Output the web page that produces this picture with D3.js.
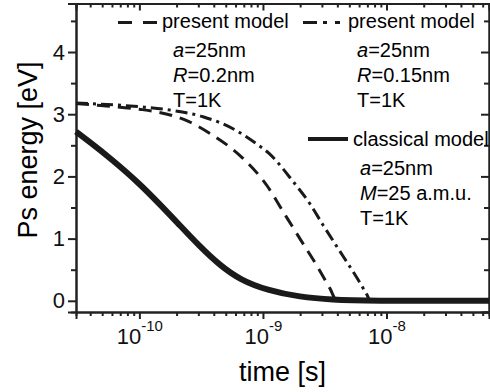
<!DOCTYPE html>
<html>
<head>
<meta charset="utf-8">
<script src="https://d3js.org/d3.v7.min.js"></script>
<style>
    body { margin: 0; background: #fff; }
    svg { display: block; font-family: "Liberation Sans", Arial, sans-serif; }
</style>
</head>
<body>
<div id="energyPlot"></div>
<script>
// Ps energy vs time, log x axis, three cooling curves

// [time (s), energy (eV)]
const classicalCurve = [[3.07e-11, 2.72], [3.98e-11, 2.55], [5.68e-11, 2.31], [1.0e-10, 1.89],
    [1.55e-10, 1.50], [2.0e-10, 1.27], [3.09e-10, 0.87], [4.49e-10, 0.57], [6.51e-10, 0.34],
    [1.08e-9, 0.17], [1.99e-9, 0.06], [3.68e-9, 0.015], [6.81e-9, 0], [6.75e-8, 0]];

const presentR02Curve = [[3.07e-11, 3.17], [4.89e-11, 3.14], [1.0e-10, 3.08], [1.36e-10, 3.04],
    [2.52e-10, 2.88], [3.73e-10, 2.69], [6.89e-10, 2.29], [1.08e-9, 1.85], [1.45e-9, 1.44],
    [1.99e-9, 1.00], [2.74e-9, 0.56], [3.48e-9, 0.20], [3.97e-9, 0], [6.75e-8, 0]];

const presentR015Curve = [[3.07e-11, 3.18], [1.0e-10, 3.12], [1.87e-10, 3.06], [3.27e-10, 2.96],
    [6.05e-10, 2.74], [8.78e-10, 2.53], [1.12e-9, 2.37], [1.75e-9, 1.92], [2.4e-9, 1.56],
    [3.06e-9, 1.22], [4.44e-9, 0.72], [5.76e-9, 0.37], [6.93e-9, 0.10], [7.41e-9, 0],
    [6.75e-8, 0]];

const xDomain = [3.07e-11, 6.75e-8];
const yDomain = [-0.18, 4.78];
const xMajorTicks = [1e-10, 1e-9, 1e-8];
const yMajorTicks = [0, 1, 2, 3, 4];
const yMinorTicks = [0.5, 1.5, 2.5, 3.5, 4.5];

// legend text, first part of a line is italic
const legendR02 = ["present model", ["a", "=25nm"], ["R", "=0.2nm"], ["", "T=1K"]];
const legendR015 = ["present model", ["a", "=25nm"], ["R", "=0.15nm"], ["", "T=1K"]];
const legendClassical = ["classical model", ["a", "=25nm"], ["M", "=25 a.m.u."], ["", "T=1K"]];

const xTitle = "time [s]";
const yTitle = "Ps energy [eV]";

class EnergyPlot {
    constructor() {
        this.width = 490;
        this.height = 392;
        this.margin = {top: 3.5, right: 1, bottom: 80, left: 76};

        this.svg = d3.select("#energyPlot")
            .append("svg")
            .attr("width", this.width)
            .attr("height", this.height);

        let left = this.margin.left, right = this.width - this.margin.right;
        let top = this.margin.top, bottom = this.height - this.margin.bottom;

        this.x = d3.scaleLog().domain(xDomain).range([left, right]);
        this.y = d3.scaleLinear().domain(yDomain).range([bottom, top]);

        let xMinor = this.x.ticks().filter(t => !xMajorTicks.some(m => Math.abs(m - t) / m < 1e-6));
        let none = () => "";

        // ticks out on left/bottom, in on top/right
        this.axis(d3.axisBottom(this.x).tickValues(xMinor).tickSize(4).tickFormat(none), 0, bottom);
        let xAx = this.axis(d3.axisBottom(this.x).tickValues(xMajorTicks).tickSize(7).tickPadding(4), 0, bottom);
        this.axis(d3.axisTop(this.x).tickValues(xMinor).tickSize(-4).tickFormat(none), 0, top);
        this.axis(d3.axisTop(this.x).tickValues(xMajorTicks).tickSize(-7).tickFormat(none), 0, top);

        this.axis(d3.axisLeft(this.y).tickValues(yMinorTicks).tickSize(5).tickFormat(none), left, 0);
        let yAx = this.axis(d3.axisLeft(this.y).tickValues(yMajorTicks).tickSize(8).tickPadding(3), left, 0);
        this.axis(d3.axisRight(this.y).tickValues(yMinorTicks).tickSize(-5).tickFormat(none), right, 0);
        this.axis(d3.axisRight(this.y).tickValues(yMajorTicks).tickSize(-8).tickFormat(none), right, 0);

        yAx.selectAll(".tick text")
            .style("font-size", "22px")
            .attr("fill", "#111")
            .text(d => d);

        // x labels as 10^n
        xAx.selectAll(".tick text")
            .attr("y", 32)
            .attr("dy", null)
            .attr("fill", "#111")
            .style("font-size", "22px")
            .text(null)
            .each(function(d) {
                let e = Math.round(Math.log10(d));
                d3.select(this).append("tspan").text("10");
                d3.select(this).append("tspan")
                    .attr("dy", -13)
                    .style("font-size", "15px")
                    .text(String(e));
            });

        // axis titles
        this.svg.append("text")
            .attr("x", (left + right) / 2)
            .attr("y", 381)
            .attr("text-anchor", "middle")
            .style("font-size", "27px")
            .text(xTitle);
        this.svg.append("text")
            .attr("transform", "translate(37," + 150 + ") rotate(-90)")
            .attr("text-anchor", "middle")
            .style("font-size", "27px")
            .text(yTitle);

        // curves
        let lineGen = d3.line()
            .x(d => this.x(d[0]))
            .y(d => this.y(d[1]))
            .curve(d3.curveMonotoneX);
        // classical one is a smooth S shape, basis avoids the small kinks
        let smoothGen = d3.line()
            .x(d => this.x(d[0]))
            .y(d => this.y(d[1]))
            .curve(d3.curveBasis);

        this.curve(lineGen(presentR02Curve), 3, "13,8");
        this.curve(lineGen(presentR015Curve), 3, "12,5,3,5");
        this.curve(smoothGen(classicalCurve), 6, null);

        // legends
        this.legend(legendR02, 118, 157, 22.5, 162, 173, 28, "14,11", 3);
        this.legend(legendR015, 303, 345, 22.5, 348, 357, 28, "14,6,4,8,5,20", 3);
        this.legend(legendClassical, 308, 348, 139, 353, 360, 146, null, 4);
    }

    axis(gen, tx, ty) {
        let g = this.svg.append("g")
            .attr("transform", "translate(" + tx + "," + ty + ")")
            .call(gen);
        g.select(".domain").attr("stroke", "#222").attr("stroke-width", 2);
        g.selectAll(".tick line").attr("stroke", "#222").attr("stroke-width", 2);
        return g;
    }

    curve(d, w, dash) {
        let p = this.svg.append("path")
            .attr("d", d)
            .style("fill", "none")
            .style("stroke", "#1a1a1a")
            .style("stroke-width", w + "px");
        if (dash) p.style("stroke-dasharray", dash);
    }

    legend(lines, x1, x2, lineY, headX, subX, headY, dash, w) {
        let line = this.svg.append("line")
            .attr("x1", x1).attr("x2", x2)
            .attr("y1", lineY).attr("y2", lineY)
            .style("stroke", "#1a1a1a")
            .style("stroke-width", w + "px");
        if (dash) line.style("stroke-dasharray", dash);

        this.svg.append("text")
            .attr("x", headX)
            .attr("y", headY)
            .style("font-size", "20px")
            .text(lines[0]);

        for (let i = 1; i < lines.length; i++) {
            let t = this.svg.append("text")
                .attr("x", subX)
                .attr("y", headY + 4 + 25 * i)
                .style("font-size", "20px");
            if (lines[i][0] !== "") t.append("tspan").style("font-style", "italic").text(lines[i][0]);
            t.append("tspan").text(lines[i][1]);
        }
    }
}

let plot = new EnergyPlot();
</script>
</body>
</html>
